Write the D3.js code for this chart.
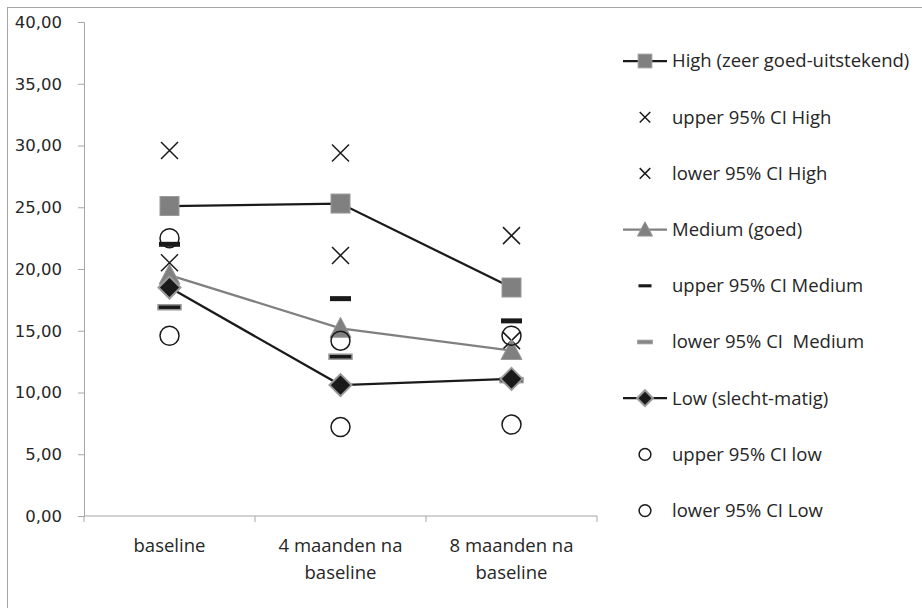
<!DOCTYPE html>
<html>
<head>
<meta charset="utf-8">
<script src="https://cdn.jsdelivr.net/npm/d3@7"></script>
<style>
  body { margin: 0; background: #fff; }
</style>
</head>
<body>
<svg id="chart" width="922" height="608"></svg>
<script>
var categories = ["baseline", "4 maanden na baseline", "8 maanden na baseline"];
var categoryLines = [["baseline"], ["4 maanden na", "baseline"], ["8 maanden na", "baseline"]];
var yTicks = [0, 5, 10, 15, 20, 25, 30, 35, 40];

var high = [25.1, 25.3, 18.5];
var highUpper = [29.6, 29.4, 22.7];
var highLower = [20.5, 21.1, 14.2];
var medium = [19.5, 15.2, 13.4];
var mediumUpper = [22.0, 17.6, 15.8];
var mediumLower = [16.9, 12.9, 11.0];
var low = [18.5, 10.6, 11.1];
var lowUpper = [22.5, 14.2, 14.6];
var lowLower = [14.6, 7.2, 7.4];

var legendLabels = [
  "High (zeer goed-uitstekend)", "upper 95% CI High", "lower 95% CI High",
  "Medium (goed)", "upper 95% CI Medium", "lower 95% CI  Medium",
  "Low (slecht-matig)", "upper 95% CI low", "lower 95% CI Low"
];

var series = [
  {name: legendLabels[0], values: high, marker: "square", line: "#1a1a1a"},
  {name: legendLabels[1], values: highUpper, marker: "cross"},
  {name: legendLabels[2], values: highLower, marker: "cross"},
  {name: legendLabels[3], values: medium, marker: "triangle", line: "#808080"},
  {name: legendLabels[4], values: mediumUpper, marker: "dashBlack"},
  {name: legendLabels[5], values: mediumLower, marker: "dashGray"},
  {name: legendLabels[6], values: low, marker: "diamond", line: "#1a1a1a"},
  {name: legendLabels[7], values: lowUpper, marker: "circle"},
  {name: legendLabels[8], values: lowLower, marker: "circle"}
];

var svg = d3.select("#chart");
var textColor = "#262626";
var axisColor = "#a6a6a6";

svg.append("rect")
  .attr("x", 7.5).attr("y", 7.5)
  .attr("width", 1200).attr("height", 1200)
  .style("fill", "#fff")
  .style("stroke", axisColor);

var x = d3.scaleBand().domain(categories).range([84, 597]);
var y = d3.scaleLinear().domain([0, 40]).range([516, 22]);

var nl = d3.formatLocale({decimal: ",", thousands: ".", grouping: [3], currency: ["", ""]});
var fmt = nl.format(".2f");

// y axis
var yAxis = svg.append("g")
  .attr("transform", "translate(84,0)")
  .call(d3.axisLeft(y).tickValues(yTicks).tickSize(6).tickPadding(16).tickFormat(fmt));
yAxis.select(".domain").style("stroke", axisColor);
yAxis.selectAll(".tick line").style("stroke", axisColor);
yAxis.selectAll("text")
  .style("font-family", "DejaVu Sans")
  .style("font-size", "16.5px")
  .style("fill", textColor);

// x axis
svg.append("line")
  .attr("x1", 84).attr("x2", 597)
  .attr("y1", y(0)).attr("y2", y(0))
  .style("stroke", axisColor);
var bounds = categories.map(function(c) { return x(c); }).concat([x.range()[1]]);
svg.selectAll(".xtick")
  .data(bounds)
  .enter().append("line")
  .attr("x1", function(d) { return d; }).attr("x2", function(d) { return d; })
  .attr("y1", y(0)).attr("y2", y(0) + 6)
  .style("stroke", axisColor);

svg.selectAll(".xlabel")
  .data(categories)
  .enter().append("text")
  .attr("text-anchor", "middle")
  .style("font-family", "Open Sans")
  .style("font-size", "18.5px")
  .style("fill", textColor)
  .each(function(d, i) {
    var t = d3.select(this);
    categoryLines[i].forEach(function(s, j) {
      t.append("tspan")
        .attr("x", x(d) + x.bandwidth() / 2)
        .attr("y", 552 + j * 27)
        .text(s);
    });
  });

function drawMarker(g, type, cx, cy, s) {
  // s = scale factor (1 for plot, smaller for legend)
  if (type == "square") {
    g.append("rect")
      .attr("x", cx - 9.5 * s).attr("y", cy - 9.5 * s)
      .attr("width", 19 * s).attr("height", 19 * s)
      .style("fill", "#808080").style("stroke", "#9a9a9a").style("stroke-width", 1);
  } else if (type == "triangle") {
    g.append("path")
      .attr("d", "M" + cx + "," + (cy - 11 * s) + "L" + (cx + 10.5 * s) + "," + (cy + 9 * s) + "L" + (cx - 10.5 * s) + "," + (cy + 9 * s) + "Z")
      .style("fill", "#808080").style("stroke", "#9a9a9a").style("stroke-width", 1);
  } else if (type == "diamond") {
    g.append("path")
      .attr("d", "M" + cx + "," + (cy - 11 * s) + "L" + (cx + 11 * s) + "," + cy + "L" + cx + "," + (cy + 11 * s) + "L" + (cx - 11 * s) + "," + cy + "Z")
      .style("fill", "#1a1a1a").style("stroke", "#999").style("stroke-width", 2);
  } else if (type == "cross") {
    var r = 8.5 * s;
    g.append("path")
      .attr("d", "M" + (cx - r) + "," + (cy - r) + "L" + (cx + r) + "," + (cy + r) + "M" + (cx - r) + "," + (cy + r) + "L" + (cx + r) + "," + (cy - r))
      .style("stroke", "#1a1a1a").style("stroke-width", 1.5).style("fill", "none");
  } else if (type == "dashBlack") {
    g.append("rect")
      .attr("x", cx - 10.5 * s).attr("y", cy - 2.5 * s)
      .attr("width", 21 * s).attr("height", 5 * s)
      .style("fill", "#1a1a1a");
  } else if (type == "dashGray") {
    g.append("rect")
      .attr("x", cx - 11.5 * s).attr("y", cy - 2.5 * s)
      .attr("width", 23 * s).attr("height", 5 * s)
      .style("fill", s < 1 ? "#808080" : "#1a1a1a").style("stroke", "#999").style("stroke-width", 1.5);
  } else if (type == "circle") {
    g.append("circle")
      .attr("cx", cx).attr("cy", cy).attr("r", 9.5 * s)
      .style("fill", "none").style("stroke", "#1a1a1a").style("stroke-width", 1.5);
  }
}

var line = d3.line()
  .x(function(d, i) { return x(categories[i]) + x.bandwidth() / 2; })
  .y(function(d) { return y(d); });

series.forEach(function(sr) {
  var g = svg.append("g");
  if (sr.line) {
    g.append("path")
      .datum(sr.values)
      .attr("d", line)
      .style("fill", "none")
      .style("stroke", sr.line)
      .style("stroke-width", 2.25);
  }
  sr.values.forEach(function(v, i) {
    drawMarker(g, sr.marker, x(categories[i]) + x.bandwidth() / 2, y(v), 1);
  });
});

// legend
var legend = svg.append("g");
series.forEach(function(sr, i) {
  var ly = 61 + i * 56.2;
  var g = legend.append("g");
  if (sr.line) {
    g.append("line")
      .attr("x1", 623).attr("x2", 667)
      .attr("y1", ly).attr("y2", ly)
      .style("stroke", sr.line).style("stroke-width", 2.25);
  }
  drawMarker(g, sr.marker, 645, ly, sr.line ? 0.72 : 0.62);
  g.append("text")
    .attr("x", 672).attr("y", ly)
    .attr("dy", "0.35em")
    .style("font-family", "Open Sans")
    .style("font-size", "18.5px")
    .style("white-space", "pre")
    .style("fill", textColor)
    .text(sr.name);
});
</script>
</body>
</html>
